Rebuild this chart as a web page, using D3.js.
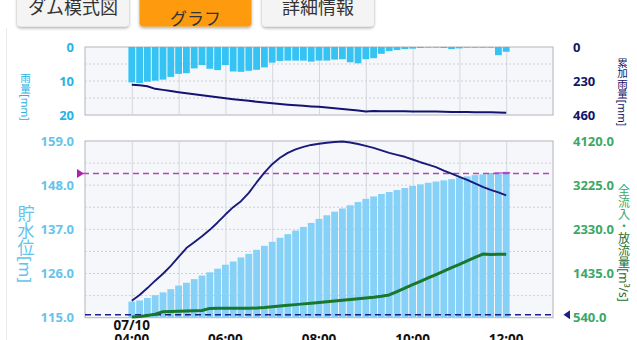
<!DOCTYPE html>
<html>
<head>
<meta charset="utf-8">
<script src="https://cdn.jsdelivr.net/npm/d3@7"></script>
<style>
body { margin: 0; background: #fff; overflow: hidden; }
text { font-family: "Noto Sans", "Noto Sans CJK JP", sans-serif; }
</style>
</head>
<body>
<svg id="chart" width="637" height="340"></svg>
<script>
// ---- data (10 minute steps from 07/10 04:00 to 12:00) ----
var buttonLabels = ["ダム模式図", "グラフ", "詳細情報"];
var dateLabel = "07/10";
var timeLabels = ["04:00", "06:00", "08:00", "10:00", "12:00"];

var rainfall = [10.4, 10.6, 10.2, 9.9, 9.6, 8.8, 7.9, 7.7, 6.3, 5.3, 6.4, 6.8, 5.3,
  7.2, 7.3, 7.0, 6.7, 6.0, 4.6, 4.1, 4.0, 4.0, 4.0, 4.3, 4.0,
  4.0, 3.7, 3.6, 4.5, 4.8, 3.6, 3.3, 2.0, 1.2, 0.9, 0.6, 0.5,
  0.3, 0.2, 0.2, 0.3, 0.6, 0.4, 0.2, 0.2, 0.2, 0.2, 2.4, 1.4];
var cumRain = [256, 258, 266, 283, 290, 298, 306,
  313, 319, 326, 333, 340, 347,
  353, 358, 364, 370, 376, 381,
  386, 390, 394, 398, 402, 405,
  410, 415, 420, 425, 430, 437,
  433, 434, 434, 435, 435, 436,
  436, 437, 437, 438, 439, 439,
  440, 441, 441, 442, 443, 444];
var level = [119.0, 119.3, 119.9, 120.6, 121.3, 122.1, 123.0,
  123.7, 124.6, 125.5, 126.3, 127.2, 128.2,
  129.0, 130.0, 130.9, 131.9, 132.9, 133.9,
  134.9, 135.8, 136.7, 137.6, 138.6, 139.6,
  140.5, 141.4, 142.2, 143.0, 143.8, 144.6,
  145.2, 145.8, 146.3, 146.8, 147.3, 147.8,
  148.2, 148.6, 148.9, 149.2, 149.5, 149.9,
  150.2, 150.5, 150.7, 151.0, 151.2, 151.3];
var inflow = [884, 1000, 1140, 1290, 1430, 1590, 1770,
  1950, 2070, 2190, 2320, 2470, 2630,
  2780, 2900, 3070, 3280, 3480, 3650,
  3780, 3880, 3950, 4000, 4040, 4065,
  4085, 4100, 4110, 4090, 4060, 4020,
  3980, 3930, 3880, 3840, 3800, 3745,
  3690, 3640, 3590, 3520, 3460, 3395,
  3330, 3260, 3190, 3130, 3080, 3020];
var outflow = [555, 565, 585, 610, 662, 668, 672,
  676, 680, 685, 728, 730, 730,
  730, 730, 730, 735, 745, 760,
  775, 790, 805, 820, 835, 850,
  865, 880, 895, 910, 925, 940,
  955, 975, 1000, 1070, 1140, 1210,
  1275, 1345, 1415, 1485, 1555, 1620,
  1690, 1760, 1830, 1820, 1825, 1825];

var rainTicks = [0, 10, 20];
var cumTicks = [0, 230, 460];
var levelTicks = [115, 126, 137, 148, 159];
var flowTicks = [540, 1435, 2330, 3225, 4120];
var surchargeLevel = 150.9;
var planFlow = 600;

// ---- setup ----
var svg = d3.select("#chart");
var start = new Date(2021, 6, 10, 4, 0);
var timeAt = function (i) { return d3.timeMinute.offset(start, 10 * i); };
var parseHM = d3.timeParse("%Y-%m-%d %H:%M");

var left = 85, right = 553;
var top1 = 47, bottom1 = 115, top2 = 141, bottom2 = 317.7;

var x = d3.scaleTime()
  .domain([d3.timeHour.offset(start, -1), d3.timeHour.offset(start, 9)])
  .range([left, right]);
var yRain = d3.scaleLinear().domain([0, 20]).range([top1, bottom1]);
var yCum = d3.scaleLinear().domain([0, 460]).range([top1, bottom1]);
var yLevel = d3.scaleLinear().domain([115, 159]).range([bottom2, top2]);
var yFlow = d3.scaleLinear().domain([540, 4120]).range([bottom2, top2]);
var barW = x(timeAt(1)) - x(timeAt(0));

var defs = svg.append("defs");
defs.append("filter").attr("id", "shadow")
  .attr("x", "-10%").attr("y", "-10%").attr("width", "120%").attr("height", "140%")
  .append("feDropShadow")
  .attr("dx", 0).attr("dy", 1.5).attr("stdDeviation", 1.4)
  .attr("flood-color", "#000").attr("flood-opacity", 0.35);

// page edge line
svg.append("line").attr("x1", 6.5).attr("x2", 6.5).attr("y1", 28).attr("y2", 340)
  .attr("stroke", "#ececec");

// ---- tab buttons ----
var btnX = [17, 139.5, 262];
var btn = svg.selectAll("g.btn").data(buttonLabels).enter().append("g").attr("class", "btn");
btn.append("rect")
  .attr("x", function (d, i) { return btnX[i]; })
  .attr("y", -10).attr("width", 112).attr("height", 36.5).attr("rx", 4)
  .attr("fill", function (d, i) { return i === 1 ? "#fd9a0b" : "#f4f4f4"; })
  .attr("filter", "url(#shadow)");
btn.append("text")
  .attr("x", function (d, i) { return btnX[i] + 56; })
  .attr("y", function (d, i) { return i === 1 ? 24.5 : 14; })
  .attr("text-anchor", "middle")
  .attr("font-size", function (d, i) { return i === 1 ? "17px" : "18px"; })
  .attr("fill", "#333")
  .text(function (d) { return d; });

// ---- plot frames and grids ----
function frame(y0, y1, gridVals, yScale) {
  svg.append("rect").attr("x", left).attr("y", y0).attr("width", right - left).attr("height", y1 - y0)
    .attr("fill", "#f6f7fb").attr("stroke", "#b4b4bc").attr("stroke-width", 1);
  var gx = svg.append("g").attr("transform", "translate(0," + y1 + ")")
    .call(d3.axisBottom(x).ticks(d3.timeHour.every(1)).tickSize(-(y1 - y0)).tickFormat(""));
  gx.select(".domain").remove();
  gx.selectAll("line").attr("stroke", "#d6d6de");
  gx.selectAll(".tick").filter(function (d) { return +d === +x.domain()[0]; }).remove();
  svg.append("g").selectAll("line").data(gridVals).enter().append("line")
    .attr("x1", left).attr("x2", right)
    .attr("y1", function (d) { return yScale(d); }).attr("y2", function (d) { return yScale(d); })
    .attr("stroke", "#cfcfd6").attr("stroke-dasharray", "2,2");
}
frame(top1, bottom1, [5, 10, 15], yRain);
frame(top2, bottom2, d3.range(120.5, 159, 5.5), yLevel);

// ---- rainfall chart ----
var rainData = rainfall.map(function (v, i) { return { t: timeAt(i), v: v }; });
svg.append("g").selectAll("rect").data(rainData).enter().append("rect")
  .attr("x", function (d) { return x(d.t) - barW / 2 + 0.5; })
  .attr("y", yRain(0))
  .attr("width", barW - 1)
  .attr("height", function (d) { return yRain(d.v) - yRain(0); })
  .attr("fill", "#35c3f3");

var cumData = cumRain.map(function (v, i) { return { t: timeAt(i), v: v }; });
svg.append("path").datum(cumData)
  .attr("fill", "none").attr("stroke", "#141470").attr("stroke-width", 2)
  .attr("d", d3.line().x(function (d) { return x(d.t); }).y(function (d) { return yCum(d.v); }));

// ---- level / flow chart ----
var levelData = level.map(function (v, i) { return { t: timeAt(i), v: v }; });
var lb = svg.append("g").selectAll("g").data(levelData).enter().append("g");
lb.append("rect")
  .attr("x", function (d) { return x(d.t) - barW / 2 + 0.5; })
  .attr("y", function (d) { return yLevel(Math.min(d.v, surchargeLevel)); })
  .attr("width", barW - 1)
  .attr("height", function (d) { return bottom2 - yLevel(Math.min(d.v, surchargeLevel)); })
  .attr("fill", "#86d1f7");
lb.filter(function (d) { return d.v > surchargeLevel; }).append("rect")
  .attr("x", function (d) { return x(d.t) - barW / 2; })
  .attr("y", function (d) { return yLevel(d.v); })
  .attr("width", barW)
  .attr("height", function (d) { return yLevel(surchargeLevel) - yLevel(d.v); })
  .attr("fill", "#b84cc8");

// reference levels
svg.append("line").attr("x1", 83).attr("x2", right)
  .attr("y1", yLevel(surchargeLevel)).attr("y2", yLevel(surchargeLevel))
  .attr("stroke", "#b347b8").attr("stroke-width", 1.5).attr("stroke-dasharray", "6,4");
svg.append("path")
  .attr("d", "M77," + (yLevel(surchargeLevel) - 4.5) + "L84," + yLevel(surchargeLevel) + "L77," + (yLevel(surchargeLevel) + 4.5) + "Z")
  .attr("fill", "#b01fb0");
svg.append("line").attr("x1", left).attr("x2", right)
  .attr("y1", yFlow(planFlow)).attr("y2", yFlow(planFlow))
  .attr("stroke", "#1c1c8a").attr("stroke-width", 1.5).attr("stroke-dasharray", "6,4");
svg.append("path")
  .attr("d", "M570," + (yFlow(planFlow) - 4.5) + "L563.5," + yFlow(planFlow) + "L570," + (yFlow(planFlow) + 4.5) + "Z")
  .attr("fill", "#1c1c8a");

var flowLine = d3.line().x(function (d) { return x(d.t); }).y(function (d) { return yFlow(d.v); });
svg.append("path").datum(outflow.map(function (v, i) { return { t: timeAt(i), v: v }; }))
  .attr("fill", "none").attr("stroke", "#18782c").attr("stroke-width", 3)
  .attr("stroke-linejoin", "round").attr("d", flowLine);
svg.append("path").datum(inflow.map(function (v, i) { return { t: timeAt(i), v: v }; }))
  .attr("fill", "none").attr("stroke", "#1a1a7c").attr("stroke-width", 1.9)
  .attr("stroke-linejoin", "round").attr("d", flowLine);

// ---- axes labels ----
function yLabels(axis, xPos, color) {
  var g = svg.append("g").attr("transform", "translate(" + xPos + ",0)").call(axis);
  g.select(".domain").remove();
  g.selectAll("line").remove();
  g.selectAll("text").attr("fill", color).attr("font-size", "13px").attr("font-weight", "bold")
    .attr("font-family", "'Noto Sans', sans-serif");
}
yLabels(d3.axisLeft(yRain).tickValues(rainTicks).tickSize(0).tickPadding(11), left, "#28b2e4");
yLabels(d3.axisRight(yCum).tickValues(cumTicks).tickSize(0).tickPadding(20), right, "#141466");
yLabels(d3.axisLeft(yLevel).tickValues(levelTicks).tickFormat(d3.format(".1f")).tickSize(0).tickPadding(11), left, "#64c4ec");
yLabels(d3.axisRight(yFlow).tickValues(flowTicks).tickFormat(d3.format(".1f")).tickSize(0).tickPadding(20), right, "#3aa866");

// vertical titles
function vTitle(xPos, yPos, size, parts) {
  var t = svg.append("text").attr("x", xPos).attr("y", yPos)
    .attr("text-anchor", "middle").style("writing-mode", "vertical-rl")
    .attr("font-size", size);
  parts.forEach(function (p) { t.append("tspan").attr("fill", p[1]).text(p[0]); });
}
vTitle(25, 97, "10.5px", [["雨量[mm]", "#28b2e4"]]);
vTitle(622, 92, "10.5px", [["累加雨量[mm]", "#141466"]]);
vTitle(25, 244, "17px", [["貯水位[m]", "#64c4ec"]]);
vTitle(623, 243, "12px", [["全流入・", "#3aa866"], ["放流量[m³/s]", "#1e6e30"]]);

// time labels
svg.append("g").selectAll("text").data(timeLabels).enter().append("text")
  .attr("x", function (d) { return x(parseHM("2021-07-10 " + d)); })
  .attr("y", 344).attr("text-anchor", "middle")
  .attr("font-size", "13.5px").attr("font-weight", "bold").attr("fill", "#111")
  .text(function (d) { return d; });
svg.append("text").attr("x", x(start)).attr("y", 330).attr("text-anchor", "middle")
  .attr("font-size", "13.5px").attr("font-weight", "bold").attr("fill", "#111")
  .text(dateLabel);
</script>
</body>
</html>
